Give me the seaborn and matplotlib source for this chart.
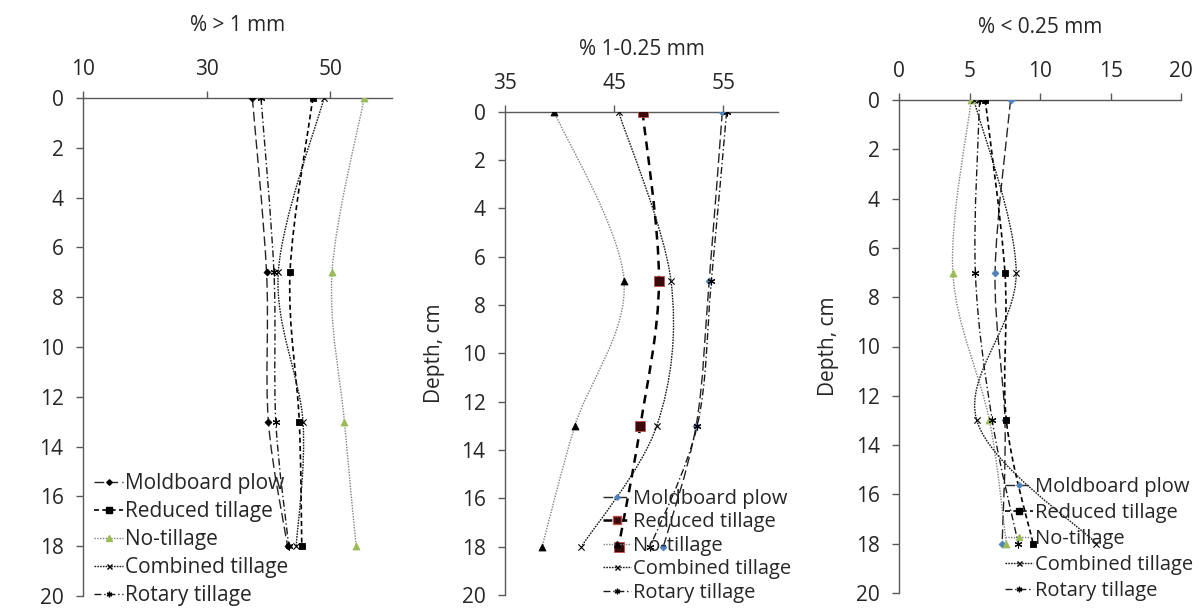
import numpy as np
import matplotlib
matplotlib.use("Agg")
import matplotlib.pyplot as plt
import seaborn as sns
import pandas as pd
from matplotlib.path import Path
from matplotlib.patches import PathPatch
from matplotlib.lines import Line2D

# ---------------- data ----------------
depth = [0, 7, 13, 18]
treatments = ["Moldboard plow", "Reduced tillage", "No-tillage",
              "Combined tillage", "Rotary tillage"]

# % > 1 mm
p1_moldboard = [37.4, 39.7, 40.0, 43.1]
p1_reduced = [47.2, 43.5, 45.0, 45.4]
p1_notill = [55.5, 50.3, 52.3, 54.2]
p1_combined = [49.0, 41.6, 45.6, 44.5]
p1_rotary = [38.8, 40.9, 41.2, 43.3]

# % 1-0.25 mm
p2_moldboard = [54.9, 53.7, 52.5, 49.5]
p2_reduced = [47.6, 49.1, 47.4, 45.4]
p2_notill = [39.5, 45.9, 41.4, 38.4]
p2_combined = [45.4, 50.2, 48.9, 42.0]
p2_rotary = [55.3, 53.9, 52.6, 48.3]

# % < 0.25 mm
p3_moldboard = [7.9, 6.8, 7.5, 7.3]
p3_reduced = [6.1, 7.5, 7.6, 9.5]
p3_notill = [5.1, 3.8, 6.4, 7.6]
p3_combined = [5.3, 8.3, 5.5, 14.0]
p3_rotary = [5.7, 5.4, 6.6, 8.45]

panel_titles = ["% > 1 mm", "% 1-0.25 mm", "% < 0.25 mm"]
panel_xlim = [(10, 60), (35, 60), (0, 20)]
panel_xticks = [[10, 30, 50], [35, 45, 55], [0, 5, 10, 15, 20]]
yticks = list(range(0, 21, 2))

panels = [
    [p1_moldboard, p1_reduced, p1_notill, p1_combined, p1_rotary],
    [p2_moldboard, p2_reduced, p2_notill, p2_combined, p2_rotary],
    [p3_moldboard, p3_reduced, p3_notill, p3_combined, p3_rotary],
]

# ---------------- style ----------------
sns.set_theme(style="white")
plt.rcParams["font.family"] = ["Open Sans", "DejaVu Sans"]
FS = 15

W, H = 1202, 608
fig = plt.figure(figsize=(W / 100, H / 100), dpi=100)

rects = [
    (83, 392, 98, 596),
    (505, 778, 111.7, 595),
    (899.3, 1181, 100, 593),
]

BLUE = "#4F81BD"
GREEN = "#9BBB59"
ASTER = (6, 2, 0)

def styles(panel):
    mold_mc = "#000000" if panel == 0 else BLUE
    red_fc, red_ec, red_ms, red_lw, red_dash = "#000000", "#000000", 5, 1.2, (3, 2)
    if panel == 1:
        red_fc, red_ec, red_ms, red_lw, red_dash = "#3a0a0a", "#C0504D", 6.5, 1.8, (3.5, 2.5)
    nt_mc = "#000000" if panel == 1 else GREEN
    return [
        dict(color="#262626", lw=1.0, dashes=(7, 3), marker="D", ms=3.5, mfc=mold_mc, mec=mold_mc),
        dict(color="#000000", lw=red_lw, dashes=red_dash, marker="s", ms=red_ms, mfc=red_fc, mec=red_ec),
        dict(color="#808080", lw=1.0, dashes=(1, 1), marker="^", ms=5, mfc=nt_mc, mec=nt_mc),
        dict(color="#1a1a1a", lw=1.0, dashes=(1.2, 0.8), marker="x", ms=4.5, mfc="#000000", mec="#000000"),
        dict(color="#1a1a1a", lw=1.0, dashes=(5, 2, 1, 2), marker=ASTER, ms=5, mfc="#000000", mec="#000000"),
    ]

def smooth_path(xs, ys):
    pts = np.column_stack([np.asarray(xs, float), np.asarray(ys, float)])
    n = len(pts)
    verts = [pts[0]]
    codes = [Path.MOVETO]
    for i in range(n - 1):
        p0 = pts[max(i - 1, 0)]
        p1 = pts[i]
        p2 = pts[i + 1]
        p3 = pts[min(i + 2, n - 1)]
        verts += [p1 + (p2 - p0) / 6.0, p2 - (p3 - p1) / 6.0, p2]
        codes += [Path.CURVE4] * 3
    return Path(verts, codes)

legend_pos = [  # upper-left anchor (pixels), row spacing, font size
    (94, 473, 0.34, 15),
    (603, 489, 0.17, 14.5),
    (1005, 477, 0.30, 14.5),
]
title_pad = [20, 13, 20]

for k, (x0, x1, y0, y1) in enumerate(rects):
    ax = fig.add_axes([x0 / W, 1 - y1 / H, (x1 - x0) / W, (y1 - y0) / H])
    st = styles(k)
    handles = []
    for name, vals, s in zip(treatments, panels[k], st):
        df = pd.DataFrame({"value": vals, "depth": depth})
        patch = PathPatch(smooth_path(df["value"], df["depth"]), fill=False,
                          edgecolor=s["color"], lw=s["lw"], linestyle=(0, s["dashes"]),
                          zorder=2)
        ax.add_patch(patch)
        sns.scatterplot(data=df, x="value", y="depth", ax=ax, marker=s["marker"],
                        s=s["ms"] ** 2, color=s["mfc"], edgecolor=s["mec"],
                        linewidth=0.8 if s["marker"] in ("x", ASTER) else 0.6,
                        zorder=3, legend=False)
        handles.append(Line2D([], [], color=s["color"], lw=s["lw"], dashes=s["dashes"],
                              marker=s["marker"], ms=s["ms"] * 0.8, mfc=s["mfc"], mec=s["mec"]))
    ax.set_xlim(*panel_xlim[k])
    ax.set_ylim(20, 0)
    ax.set_xticks(panel_xticks[k])
    ax.set_yticks(yticks)
    ax.xaxis.tick_top()
    ax.xaxis.set_label_position("top")
    ax.set_xlabel(panel_titles[k], fontsize=FS, labelpad=title_pad[k])
    if k == 0:
        ax.set_ylabel("")
    else:
        ax.set_ylabel("Depth, cm", fontsize=FS, labelpad=12)
    for side in ("bottom", "right"):
        ax.spines[side].set_visible(False)
    for side in ("top", "left"):
        ax.spines[side].set_color("#595959")
        ax.spines[side].set_linewidth(1.0)
    ax.tick_params(axis="x", direction="out", length=5, width=1, color="#595959",
                   labelsize=FS, pad=8, top=True, bottom=False)
    ax.tick_params(axis="y", direction="out", length=5, width=1, color="#595959",
                   labelsize=FS, pad=9, left=True)
    ax.set_facecolor("none")
    lx, ly, sp, lfs = legend_pos[k]
    ax.legend(handles=handles, labels=treatments, loc="upper left",
              bbox_to_anchor=(lx / W, 1 - ly / H), bbox_transform=fig.transFigure,
              frameon=False, fontsize=lfs, handlelength=1.4, handletextpad=0.1,
              labelspacing=sp, borderpad=0, borderaxespad=0)

fig.savefig("out.png", dpi=100)
